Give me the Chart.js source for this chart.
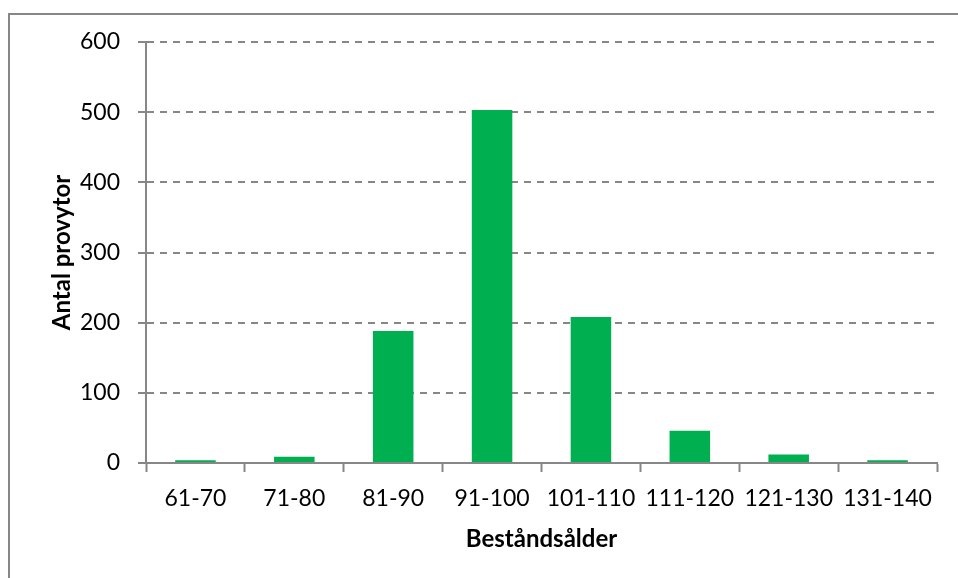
<!DOCTYPE html>
<html>
<head>
<meta charset="utf-8">
<script src="https://cdn.jsdelivr.net/npm/chart.js@4/dist/chart.umd.min.js"></script>
<style>
  html, body { margin: 0; padding: 0; background: #fff; overflow: hidden; }
  #wrap { position: relative; width: 958px; height: 578px; }
  #frame { position: absolute; left: 8px; top: 13px; width: 960px; height: 600px; border: 2px solid #878787; box-sizing: border-box; }
  canvas { position: absolute; left: 0; top: 0; }
</style>
</head>
<body>
<div id="wrap">
  <div id="frame"></div>
  <canvas id="c" width="958" height="578"></canvas>
</div>
<script>
const categories = ["61-70", "71-80", "81-90", "91-100", "101-110", "111-120", "121-130", "131-140"];
const counts = [4, 9, 188, 503, 208, 46, 12, 4];
const yTicks = [0, 100, 200, 300, 400, 500, 600];
const xTitle = "Beståndsålder";
const yTitle = "Antal provytor";

const fontFamily = "Lato, 'Open Sans', 'Liberation Sans', sans-serif";
const axisColor = "#878787";

new Chart(document.getElementById("c"), {
  type: "bar",
  data: {
    labels: categories,
    datasets: [{
      data: counts,
      backgroundColor: "#00B050",
      borderWidth: 0,
      barPercentage: 0.41,
      categoryPercentage: 1.0
    }]
  },
  options: {
    responsive: false,
    animation: false,
    devicePixelRatio: 1,
    layout: { padding: { left: 48, right: 21, top: 42, bottom: 24 } },
    plugins: { legend: { display: false }, tooltip: { enabled: false } },
    scales: {
      x: {
        offset: true,
        grid: {
          offset: true,
          drawOnChartArea: false,
          drawTicks: true,
          tickLength: 9,
          tickColor: axisColor,
          tickWidth: 2
        },
        border: { display: true, color: axisColor, width: 2 },
        ticks: { color: "#000", font: { family: fontFamily, size: 23 }, padding: 13, maxRotation: 0, autoSkip: false },
        title: { display: true, text: xTitle, color: "#000", font: { family: fontFamily, size: 24, weight: "bold" }, padding: { top: 0, bottom: 0 } },
        afterFit: s => { s.height = 554 - 463; }
      },
      y: {
        min: 0,
        max: 600,
        afterBuildTicks: s => { s.ticks = yTicks.map(v => ({ value: v })); },
        grid: {
          color: axisColor,
          lineWidth: 2,
          drawTicks: true,
          tickLength: 8,
          tickColor: axisColor,
          tickWidth: 2,
          tickBorderDash: []
        },
        border: { display: true, color: axisColor, width: 2, dash: [7, 6] },
        ticks: { color: "#000", font: { family: fontFamily, size: 23 }, padding: 18 },
        title: { display: true, text: yTitle, color: "#000", font: { family: fontFamily, size: 24, weight: "bold" }, padding: { top: 0, bottom: 0 } },
        afterFit: s => { s.width = 146 - 48; }
      }
    }
  }
});
</script>
</body>
</html>
